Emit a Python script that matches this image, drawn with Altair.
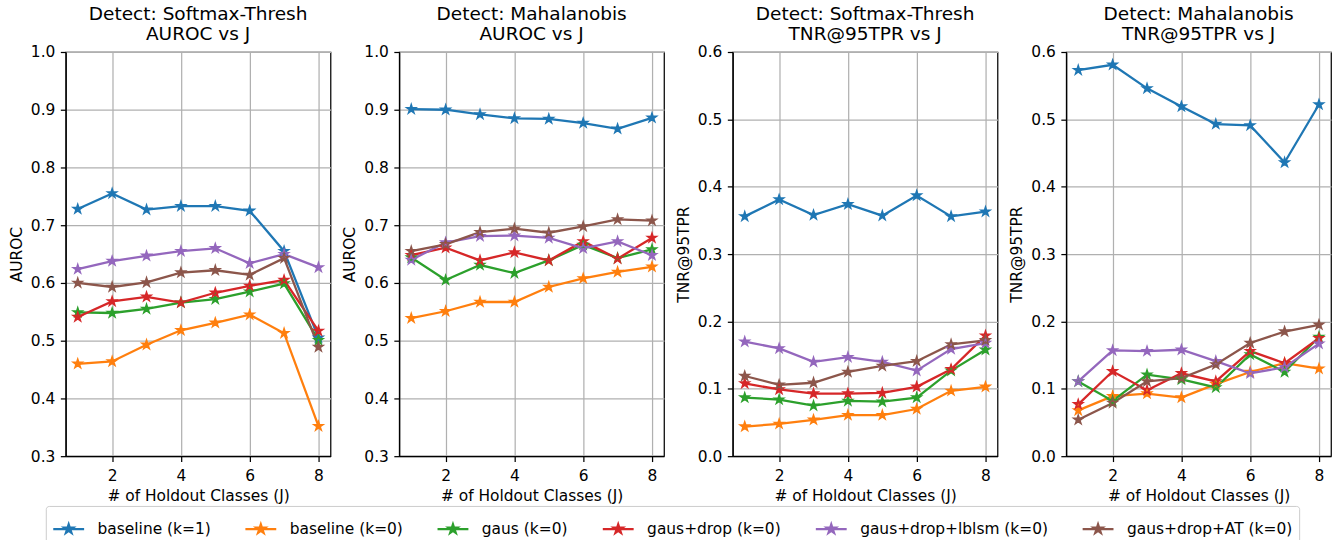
import altair as alt
import pandas as pd

J = [1, 2, 3, 4, 5, 6, 7, 8]
X_TICKS = [2, 4, 6, 8]
SERIES = ["baseline (k=1)", "baseline (k=0)", "gaus (k=0)", "gaus+drop (k=0)",
          "gaus+drop+lblsm (k=0)", "gaus+drop+AT (k=0)"]
COLORS = ["#1f77b4", "#ff7f0e", "#2ca02c", "#d62728", "#9467bd", "#8c564b"]

# Detect: Softmax-Thresh, AUROC
SOFTMAX_AUROC = [
    [0.728, 0.755, 0.727, 0.733, 0.733, 0.725, 0.655, 0.505],
    [0.460, 0.464, 0.493, 0.518, 0.531, 0.545, 0.513, 0.352],
    [0.549, 0.548, 0.555, 0.566, 0.572, 0.585, 0.599, 0.501],
    [0.541, 0.568, 0.576, 0.566, 0.583, 0.595, 0.605, 0.517],
    [0.624, 0.638, 0.647, 0.655, 0.660, 0.634, 0.650, 0.627],
    [0.600, 0.593, 0.601, 0.618, 0.622, 0.614, 0.643, 0.489],
]
# Detect: Mahalanobis, AUROC
MAHAL_AUROC = [
    [0.901, 0.900, 0.892, 0.885, 0.884, 0.877, 0.867, 0.886],
    [0.539, 0.551, 0.567, 0.567, 0.593, 0.608, 0.619, 0.628],
    [0.644, 0.605, 0.631, 0.617, 0.639, 0.666, 0.643, 0.658],
    [0.648, 0.661, 0.639, 0.653, 0.639, 0.672, 0.642, 0.678],
    [0.640, 0.670, 0.681, 0.682, 0.678, 0.660, 0.672, 0.648],
    [0.655, 0.667, 0.688, 0.694, 0.687, 0.698, 0.710, 0.708],
]
# Detect: Softmax-Thresh, TNR@95TPR
SOFTMAX_TNR = [
    [0.356, 0.381, 0.358, 0.374, 0.357, 0.387, 0.356, 0.363],
    [0.044, 0.048, 0.054, 0.061, 0.061, 0.070, 0.097, 0.103],
    [0.087, 0.084, 0.075, 0.082, 0.081, 0.087, 0.127, 0.158],
    [0.108, 0.099, 0.093, 0.093, 0.094, 0.103, 0.129, 0.179],
    [0.170, 0.160, 0.140, 0.147, 0.140, 0.127, 0.159, 0.168],
    [0.119, 0.106, 0.109, 0.125, 0.134, 0.141, 0.166, 0.172],
]
# Detect: Mahalanobis, TNR@95TPR
MAHAL_TNR = [
    [0.573, 0.581, 0.546, 0.519, 0.493, 0.491, 0.436, 0.522],
    [0.068, 0.089, 0.093, 0.087, 0.107, 0.125, 0.138, 0.130],
    [0.111, 0.082, 0.121, 0.114, 0.102, 0.151, 0.125, 0.177],
    [0.077, 0.126, 0.098, 0.123, 0.111, 0.156, 0.138, 0.175],
    [0.111, 0.157, 0.156, 0.158, 0.141, 0.123, 0.132, 0.167],
    [0.054, 0.079, 0.111, 0.116, 0.136, 0.168, 0.185, 0.195],
]

AUROC_TICKS = [0.3, 0.4, 0.5, 0.6, 0.7, 0.8, 0.9, 1.0]
TNR_TICKS = [0.0, 0.1, 0.2, 0.3, 0.4, 0.5, 0.6]

PANELS = [
    (SOFTMAX_AUROC, ["Detect: Softmax-Thresh", "AUROC vs J"], "AUROC", [0.3, 1.0], AUROC_TICKS),
    (MAHAL_AUROC, ["Detect: Mahalanobis", "AUROC vs J"], "AUROC", [0.3, 1.0], AUROC_TICKS),
    (SOFTMAX_TNR, ["Detect: Softmax-Thresh", "TNR@95TPR vs J"], "TNR@95TPR", [0.0, 0.6], TNR_TICKS),
    (MAHAL_TNR, ["Detect: Mahalanobis", "TNR@95TPR vs J"], "TNR@95TPR", [0.0, 0.6], TNR_TICKS),
]

STAR = ("M0,-1L-0.2245,-0.309L-0.9511,-0.309L-0.3633,0.118L-0.5878,0.809L0,0.382"
        "L0.5878,0.809L0.3633,0.118L0.9511,-0.309L0.2245,-0.309Z")
LEGEND_SYMBOL = ("M-1,0L1,0M0,-0.3L-0.0674,-0.0927L-0.2853,-0.0927L-0.109,0.0354"
                 "L-0.1763,0.2427L0,0.1146L0.1763,0.2427L0.109,0.0354L0.2853,-0.0927L0.0674,-0.0927Z")

FONT = "DejaVu Sans"

legend = alt.Legend(
    title=None, orient="none", legendX=-20, legendY=456, direction="horizontal", columns=6,
    symbolType=LEGEND_SYMBOL, symbolSize=961, symbolStrokeWidth=2.3, symbolOpacity=1,
    labelFontSize=15.5, labelFont=FONT, labelColor="black", labelOffset=12, labelLimit=400,
    columnPadding=29, padding=6, strokeColor="#cccccc", fillColor="white", cornerRadius=3,
)


def make_panel(values, title, ytitle, ydomain, yticks):
    rows = []
    for s, vals in zip(SERIES, values):
        for j, v in zip(J, vals):
            rows.append({"series": s, "J": j, "value": v})
    df = pd.DataFrame(rows)
    base = alt.Chart(df).encode(
        x=alt.X("J:Q", scale=alt.Scale(domain=[0.65, 8.35], nice=False, zero=False),
                axis=alt.Axis(values=X_TICKS, format="d", title="# of Holdout Classes (J)")),
        y=alt.Y("value:Q", scale=alt.Scale(domain=ydomain, nice=False, zero=False),
                axis=alt.Axis(values=yticks, format=".1f", title=ytitle)),
    )
    line = base.mark_line(strokeWidth=2.3).encode(
        stroke=alt.Stroke("series:N", sort=SERIES, scale=alt.Scale(range=COLORS), legend=None))
    pts_fill = base.mark_point(shape=STAR, filled=True, size=90, opacity=1, strokeWidth=0).encode(
        fill=alt.Fill("series:N", sort=SERIES, scale=alt.Scale(range=COLORS), legend=None))
    pts_edge = base.mark_point(shape=STAR, filled=False, size=90, opacity=1, strokeWidth=1.5).encode(
        color=alt.Color("series:N", scale=alt.Scale(domain=SERIES, range=COLORS), legend=legend))
    return alt.layer(line, pts_fill, pts_edge).properties(
        width=266, height=406,
        title=alt.TitleParams(text=title, fontSize=18.6, font=FONT, fontWeight="normal",
                              lineHeight=21, offset=1, color="black", anchor="middle"),
    )


panels = [make_panel(*p) for p in PANELS]

chart = alt.hconcat(*panels, spacing=10).properties(
    padding={"left": 8, "top": 2, "right": 2, "bottom": 0}
).configure(font=FONT).configure_view(
    stroke="black", strokeWidth=1.24
).configure_axis(
    labelFont=FONT, titleFont=FONT, labelFontSize=15.5, titleFontSize=15.5,
    titleFontWeight="normal", labelColor="black", titleColor="black",
    tickColor="black", domainColor="black", tickSize=5.4, tickWidth=1.24, domainWidth=1.24,
    gridColor="#b0b0b0", gridWidth=1.24, labelFlush=False, labelOverlap=False, labelBound=False,
).configure_axisX(
    labelPadding=7.4, titlePadding=4.5, labelAngle=0,
).configure_axisY(
    labelPadding=5.5, titlePadding=6.2, minExtent=35.5, maxExtent=35.5,
)

chart.save("out.html", embed_options={"renderer": "svg", "actions": False})
